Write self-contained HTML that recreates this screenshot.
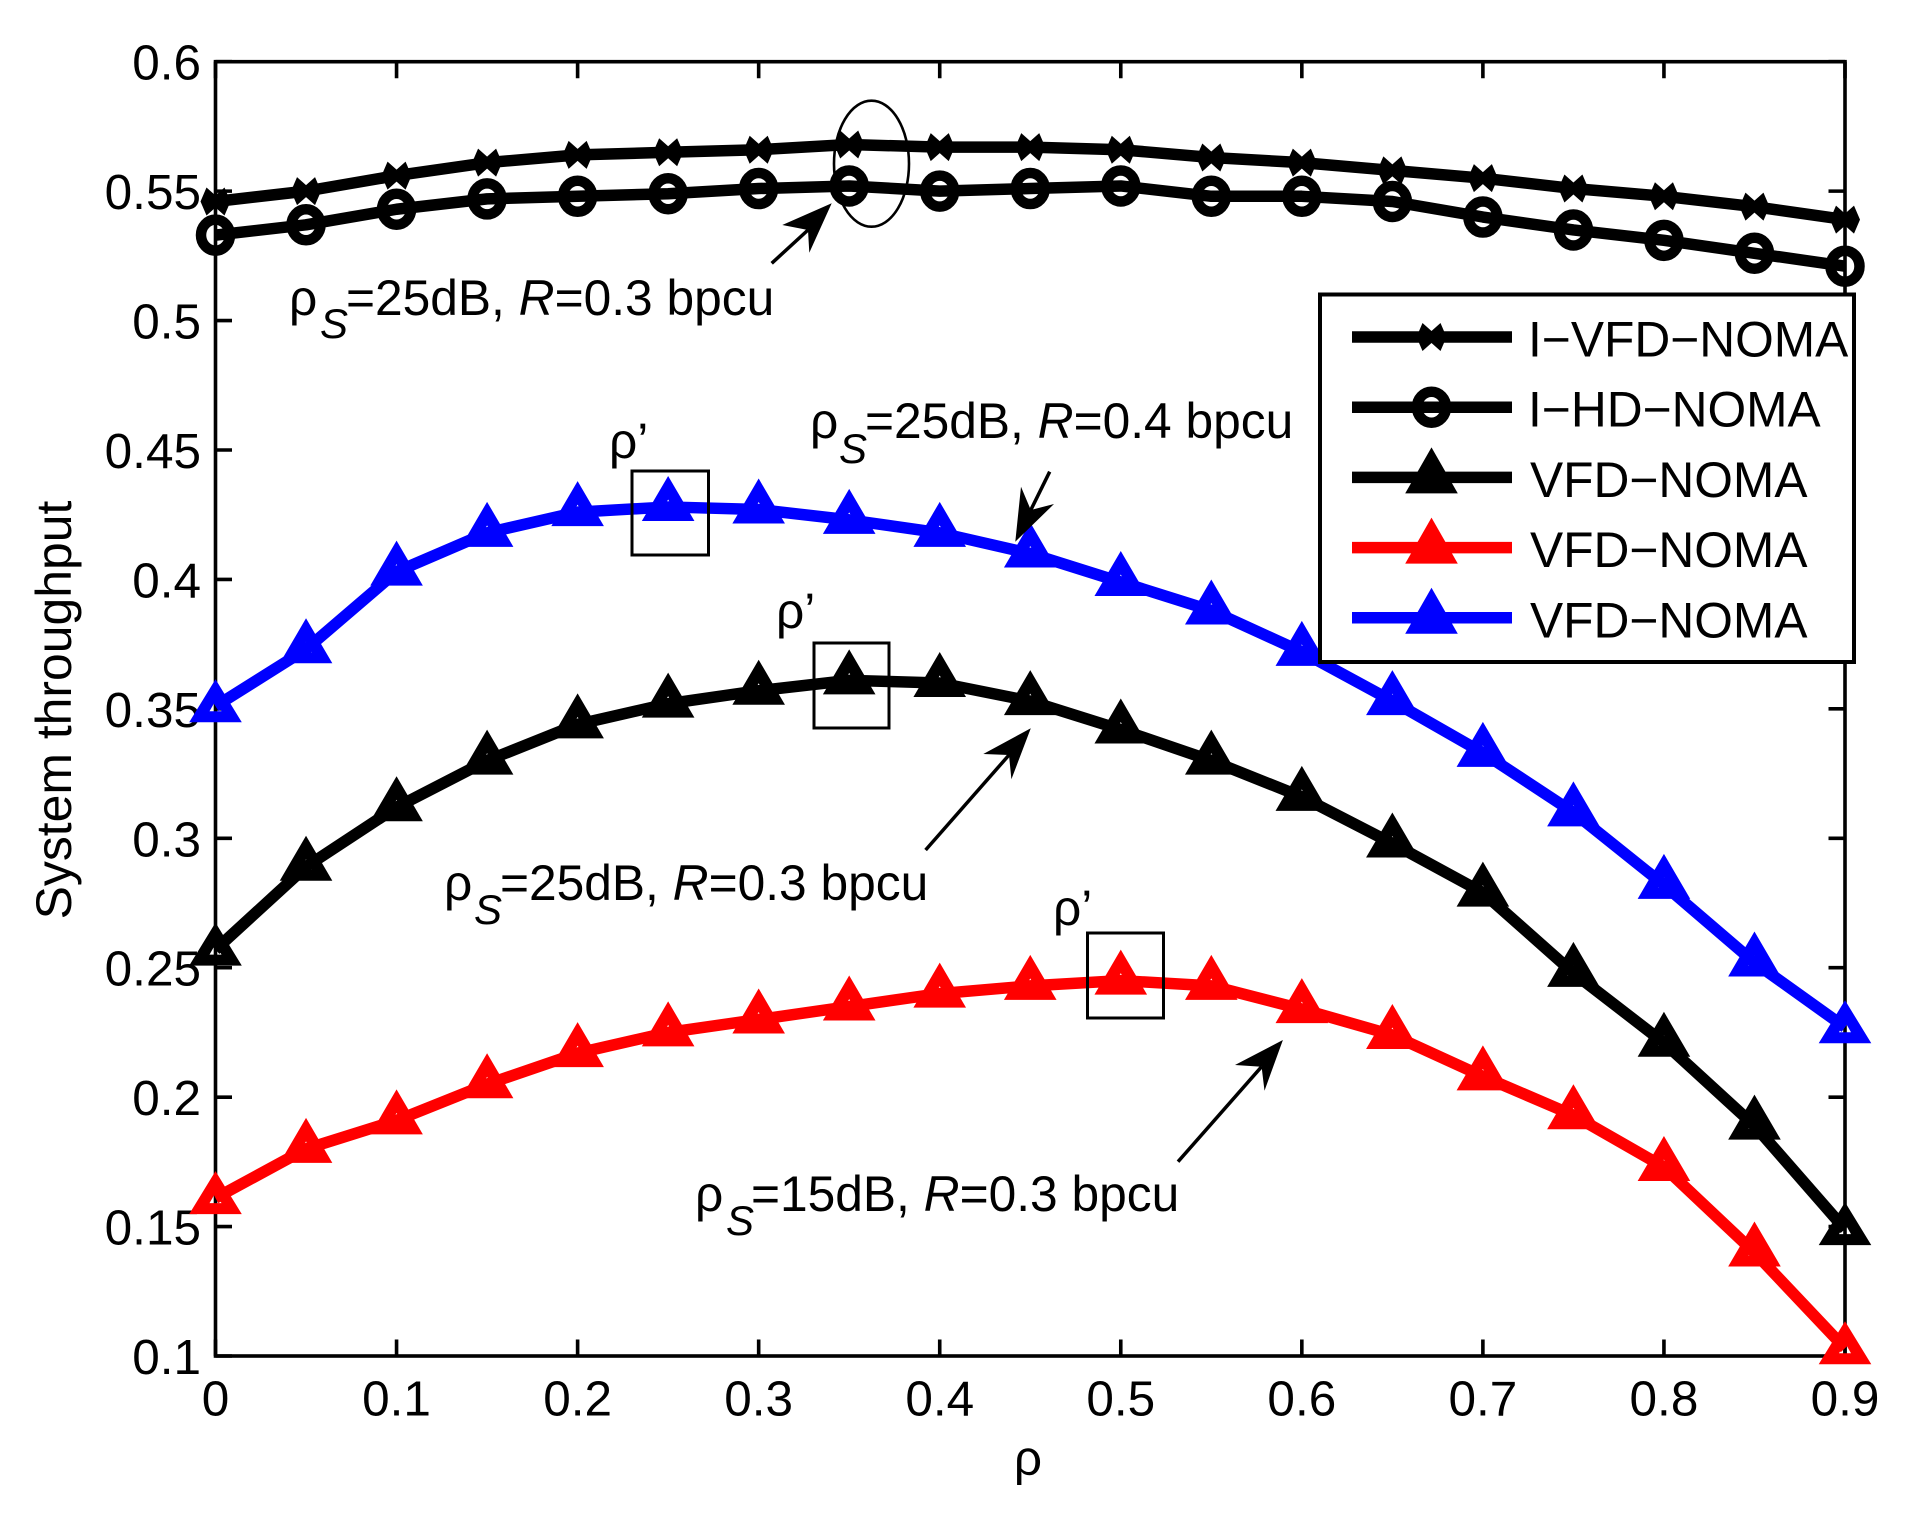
<!DOCTYPE html>
<html lang="en">
<head>
<meta charset="utf-8">
<title>System throughput versus rho</title>
<style>
html,body{margin:0;padding:0;background:#fff;}
svg{display:block;}
text{font-family:"Liberation Sans",sans-serif;fill:#000;}
</style>
</head>
<body>
<svg id="chart" xmlns="http://www.w3.org/2000/svg" width="1924" height="1517" viewBox="0 0 1924 1517">
<rect x="0" y="0" width="1924" height="1517" fill="#fff"/>
<g id="axes"></g>
<g id="series"></g>
<g id="annotations" font-size="49.7">
  <g>
    <text x="289" y="315">ρ</text>
    <text x="320" y="338" font-size="42" font-style="italic">S</text>
    <text x="346" y="315">=25dB, <tspan font-style="italic">R</tspan>=0.3 bpcu</text>
    <path d="M771.7 263.3L808 230" fill="none" stroke="#000" stroke-width="3.5"/>
    <path d="M831.7 203.3L782.3 225L808 230L809.3 252.7Z" fill="#000"/>
  </g>
  <g>
    <text x="810" y="438">ρ</text>
    <text x="839" y="463" font-size="42" font-style="italic">S</text>
    <text x="865" y="438">=25dB, <tspan font-style="italic">R</tspan>=0.4 bpcu</text>
    <path d="M1049.7 471.7L1030.8 510" fill="none" stroke="#000" stroke-width="3.5"/>
    <path d="M1015.3 541.7L1021 486.7L1030.8 510L1054 504Z" fill="#000"/>
  </g>
  <g>
    <text x="444" y="900">ρ</text>
    <text x="474" y="924" font-size="42" font-style="italic">S</text>
    <text x="500" y="900">=25dB, <tspan font-style="italic">R</tspan>=0.3 bpcu</text>
    <path d="M925.6 850L1009 755" fill="none" stroke="#000" stroke-width="3.5"/>
    <path d="M1030.8 728.3L983.3 754L1009 755L1011.4 779.3Z" fill="#000"/>
  </g>
  <g>
    <text x="695" y="1211">ρ</text>
    <text x="726" y="1235" font-size="42" font-style="italic">S</text>
    <text x="751" y="1211">=15dB, <tspan font-style="italic">R</tspan>=0.3 bpcu</text>
    <path d="M1178 1161.7L1261.6 1066.7" fill="none" stroke="#000" stroke-width="3.5"/>
    <path d="M1282.9 1040L1235 1065L1261.6 1066.7L1264.5 1090.7Z" fill="#000"/>
  </g>
  <text x="609" y="458">ρ’</text>
  <text x="776" y="628">ρ’</text>
  <text x="1053" y="925">ρ’</text>
  <rect x="632" y="471" width="76.5" height="84" fill="none" stroke="#000" stroke-width="3"/>
  <rect x="814" y="643" width="75" height="85" fill="none" stroke="#000" stroke-width="3"/>
  <rect x="1087.5" y="933" width="76" height="85" fill="none" stroke="#000" stroke-width="3"/>
  <ellipse cx="871.5" cy="163.7" rx="37.5" ry="63" fill="none" stroke="#000" stroke-width="2.6"/>
</g>
<g id="legend"></g>
</svg>
<script>
const categories = [0, 0.05, 0.1, 0.15, 0.2, 0.25, 0.3, 0.35, 0.4, 0.45, 0.5, 0.55, 0.6, 0.65, 0.7, 0.75, 0.8, 0.85, 0.9];
const iVfdNoma = [0.546, 0.550, 0.556, 0.561, 0.564, 0.565, 0.566, 0.568, 0.567, 0.567, 0.566, 0.563, 0.561, 0.558, 0.555, 0.551, 0.548, 0.544, 0.539];
const iHdNoma = [0.533, 0.537, 0.543, 0.547, 0.548, 0.549, 0.551, 0.552, 0.550, 0.551, 0.552, 0.548, 0.548, 0.546, 0.540, 0.535, 0.531, 0.526, 0.521];
const vfdBlack = [0.257, 0.289, 0.312, 0.330, 0.344, 0.352, 0.357, 0.361, 0.360, 0.353, 0.342, 0.330, 0.316, 0.298, 0.279, 0.248, 0.221, 0.189, 0.149];
const vfdRed = [0.161, 0.180, 0.191, 0.205, 0.217, 0.225, 0.230, 0.235, 0.240, 0.243, 0.245, 0.243, 0.234, 0.224, 0.208, 0.193, 0.173, 0.140, 0.103];
const vfdBlue = [0.351, 0.373, 0.403, 0.418, 0.426, 0.428, 0.427, 0.423, 0.418, 0.410, 0.399, 0.388, 0.372, 0.353, 0.333, 0.310, 0.282, 0.252, 0.227];
const xTickLabels = ['0', '0.1', '0.2', '0.3', '0.4', '0.5', '0.6', '0.7', '0.8', '0.9'];
const yTickLabels = ['0.1', '0.15', '0.2', '0.25', '0.3', '0.35', '0.4', '0.45', '0.5', '0.55', '0.6'];
const legendLabels = ['I\u2212VFD\u2212NOMA', 'I\u2212HD\u2212NOMA', 'VFD\u2212NOMA', 'VFD\u2212NOMA', 'VFD\u2212NOMA'];
const xAxisTitle = '\u03c1';
const yAxisTitle = 'System throughput';

const NS = 'http://www.w3.org/2000/svg';
const LEFT = 215.5, RIGHT = 1845, TOP = 61.7, BOTTOM = 1356;
const X_MIN = 0, X_MAX = 0.9, Y_MIN = 0.1, Y_MAX = 0.6;
function xScale(v) { return LEFT + (v - X_MIN) / (X_MAX - X_MIN) * (RIGHT - LEFT); }
function yScale(v) { return BOTTOM - (v - Y_MIN) / (Y_MAX - Y_MIN) * (BOTTOM - TOP); }

function make(tag, attrs, parent) {
  const e = document.createElementNS(NS, tag);
  for (const k in attrs) e.setAttribute(k, attrs[k]);
  parent.appendChild(e);
  return e;
}

const axes = document.getElementById('axes');
const frame = make('rect', {x: LEFT, y: TOP, width: RIGHT - LEFT, height: BOTTOM - TOP, fill: 'none', stroke: '#000', 'stroke-width': 3.6}, axes);



xTickLabels.forEach(function (t) {
  const v = parseFloat(t);
  const x = xScale(v);
  const tick = make('path', {d: 'M' + x + ' ' + BOTTOM + 'V' + (BOTTOM - 16.5) + 'M' + x + ' ' + TOP + 'V' + (TOP + 16.5), stroke: '#000', 'stroke-width': 3.6, fill: 'none'}, axes);
  
  
  const label = make('text', {x: x, y: 1415.5, 'text-anchor': 'middle', 'font-size': 49.5}, axes);
  
  
  label.textContent = t;
});

yTickLabels.forEach(function (t) {
  const v = parseFloat(t);
  const y = yScale(v);
  const tick = make('path', {d: 'M' + LEFT + ' ' + y + 'H' + (LEFT + 16.5) + 'M' + RIGHT + ' ' + y + 'H' + (RIGHT - 16.5), stroke: '#000', 'stroke-width': 3.6, fill: 'none'}, axes);
  
  
  const label = make('text', {x: 201, y: y + 18, 'text-anchor': 'end', 'font-size': 49.5}, axes);
  
  
  label.textContent = t;
});

const xTitle = make('text', {x: 1028, y: 1475, 'text-anchor': 'middle', 'font-size': 49.5}, axes);


xTitle.textContent = xAxisTitle;

const yTitle = make('text', {x: 0, y: 0, 'text-anchor': 'middle', 'font-size': 49.9, transform: 'translate(71 710) rotate(-90)'}, axes);


yTitle.textContent = yAxisTitle;

function drawMarker(kind, x, y, color, parent, apex, base) {
  let m;
  if (kind === 'x') {
    m = make('path', {d: 'M' + (x - 15) + ' ' + y + 'L' + (x - 9) + ' ' + (y - 14) + 'L' + x + ' ' + (y - 6) + 'L' + (x + 9) + ' ' + (y - 14) + 'L' + (x + 15) + ' ' + y + 'L' + (x + 9) + ' ' + (y + 14) + 'L' + x + ' ' + (y + 6) + 'L' + (x - 9) + ' ' + (y + 14) + 'Z', fill: color}, parent);
  } else if (kind === 'o') {
    m = make('ellipse', {cx: x, cy: y, rx: 14.5, ry: 15.5, fill: 'none', stroke: color, 'stroke-width': 10.5}, parent);
  } else {
    const ht = base - 11;
    m = make('path', {d: 'M' + x + ' ' + (y - apex) + 'L' + (x + 26.3) + ' ' + (y + base) + 'L' + (x - 26.3) + ' ' + (y + base) + 'Z' +
      'M' + x + ' ' + (y + ht - 10.5) + 'L' + (x - 6) + ' ' + (y + ht) + 'L' + (x + 6) + ' ' + (y + ht) + 'Z', fill: color, 'fill-rule': 'evenodd'}, parent);
  }
  return m;
}

const seriesGroup = document.getElementById('series');
function drawSeries(values, color, kind, name) {
  const g = make('g', {}, seriesGroup);
  
  
  const pts = values.map(function (v, i) { return xScale(categories[i]) + ',' + yScale(v); }).join(' ');
  const line = make('polyline', {points: pts, fill: 'none', stroke: color, 'stroke-width': 11.5, 'stroke-linejoin': 'round'}, g);
  
  
  values.forEach(function (v, i) {
    const edge = i === 0 || i === values.length - 1;
    const mark = drawMarker(kind, xScale(categories[i]), yScale(v), color, g, edge ? 27 : 31, edge ? 16 : 14);
    
    
  });
}
drawSeries(iVfdNoma, '#000', 'x', 'i-vfd-noma-series');
drawSeries(iHdNoma, '#000', 'o', 'i-hd-noma-series');
drawSeries(vfdBlack, '#000', 't', 'vfd-noma-black-series');
drawSeries(vfdRed, '#f00', 't', 'vfd-noma-red-series');
drawSeries(vfdBlue, '#00f', 't', 'vfd-noma-blue-series');

const legend = document.getElementById('legend');
const legendBox = make('rect', {x: 1320, y: 294.5, width: 534, height: 367.5, fill: '#fff', stroke: '#000', 'stroke-width': 4}, legend);


const legendColors = ['#000', '#000', '#000', '#f00', '#00f'];
const legendKinds = ['x', 'o', 't', 't', 't'];
legendLabels.forEach(function (t, i) {
  const y = 337 + i * 70.2;
  const g = make('g', {}, legend);
  
  
  const sw = make('line', {x1: 1352, x2: 1512, y1: y, y2: y, stroke: legendColors[i], 'stroke-width': 11.5}, g);
  
  
  const mk = drawMarker(legendKinds[i], 1431.5, y, legendColors[i], g, 30, 16);
  
  
  const tx = make('text', {x: i < 2 ? 1528 : 1530, y: y + 19.5, 'font-size': 49.7}, g);
  
  
  tx.textContent = t;
});
</script>
</body>
</html>
